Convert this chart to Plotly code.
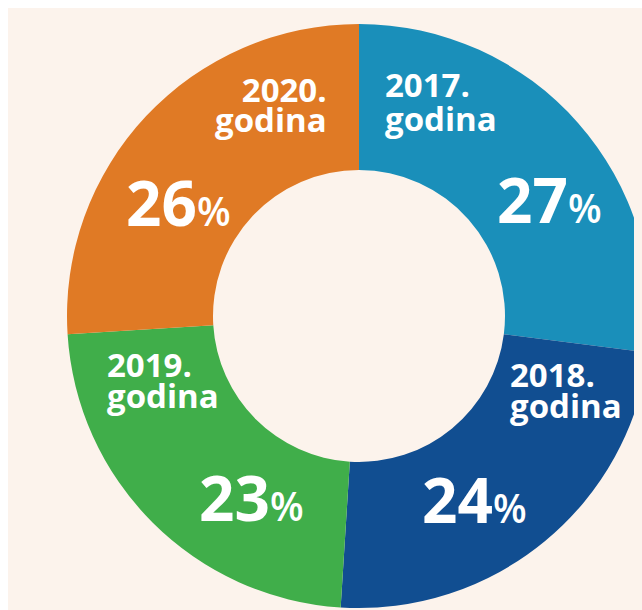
import plotly.graph_objects as go

years = ["2017.", "2018.", "2019.", "2020."]
word = "godina"
shares = [27, 24, 23, 26]
colors = ["#1a8fba", "#114e91", "#40ae4a", "#e07a25"]

W, H = 660, 604
BG = "#fcf3ec"

# pie square in figure pixels (center 351,308 radius 292)
cx, cy, r = 351, 308, 292

fig = go.Figure(go.Pie(
    labels=[y + " " + word for y in years],
    values=shares,
    sort=False,
    direction="clockwise",
    rotation=0,
    hole=0.5,
    marker=dict(colors=colors, line=dict(width=0)),
    textinfo="none",
    hoverinfo="label+percent",
    showlegend=False,
    domain=dict(x=[(cx - r) / W, (cx + r) / W], y=[1 - (cy + r) / H, 1 - (cy - r) / H]),
))

FONT = "Open Sans"
YS = 33
PS = 62

# label placement in page pixels: x, baseline of line 1, baseline of line 2, anchor
year_pos = [(383, 97, 131, "left"), (508, 387, 418, "left"), (105, 377, 408, "left"), (329, 102, 132, "right")]
# percent placement: left x, baseline
pct_pos = [(495, 223), (420, 523), (197, 521), (124, 226)]


def fx(px):
    return (px - 8) / W


def fy(py):
    return 1 - (py - 8) / H


for yr, (px, b1, b2, anc) in zip(years, year_pos):
    gap = b2 - b1
    span = f"<span style='font-size:{YS}px'>"
    fig.add_annotation(
        x=fx(px), y=fy((b1 + b2) / 2 - 12.3), xref="paper", yref="paper",
        text=f"<b>{span}{yr}</span><br>{span}{word}</span></b>",
        showarrow=False, xanchor=anc, yanchor="middle", align=anc,
        font=dict(family=FONT, size=gap / 1.3, color="white"),
    )
for val, (px, b) in zip(shares, pct_pos):
    fig.add_annotation(
        x=fx(px), y=fy(b - 0.39 * PS), xref="paper", yref="paper",
        text=f"<b>{val}</b><span style='font-size:39px;font-weight:600'>%</span>",
        showarrow=False, xanchor="left", yanchor="middle",
        font=dict(family=FONT, size=PS, color="white"),
    )

fig.update_layout(
    width=W, height=H,
    margin=dict(l=0, r=0, t=0, b=0),
    paper_bgcolor=BG, plot_bgcolor=BG,
)

page_js = (
    "var h=document.documentElement;h.style.overflow='hidden';"
    "h.style.background='linear-gradient(to bottom, #ffffff 8px, transparent 8px),"
    " linear-gradient(to right, #ffffff 8px, " + BG + " 8px)';"
    "var b=document.body;b.style.overflow='visible';b.style.maxWidth='none';"
    "var g=document.querySelector('.plotly-graph-div');"
    "if(g){var els=[g, g.parentNode].concat(Array.prototype.slice.call(g.querySelectorAll('.svg-container')));"
    "els.forEach(function(e){if(e&&e.style){e.style.overflow='visible';e.style.maxWidth='none';}});}"
)

fig.write_html("out.html", post_script=page_js)
